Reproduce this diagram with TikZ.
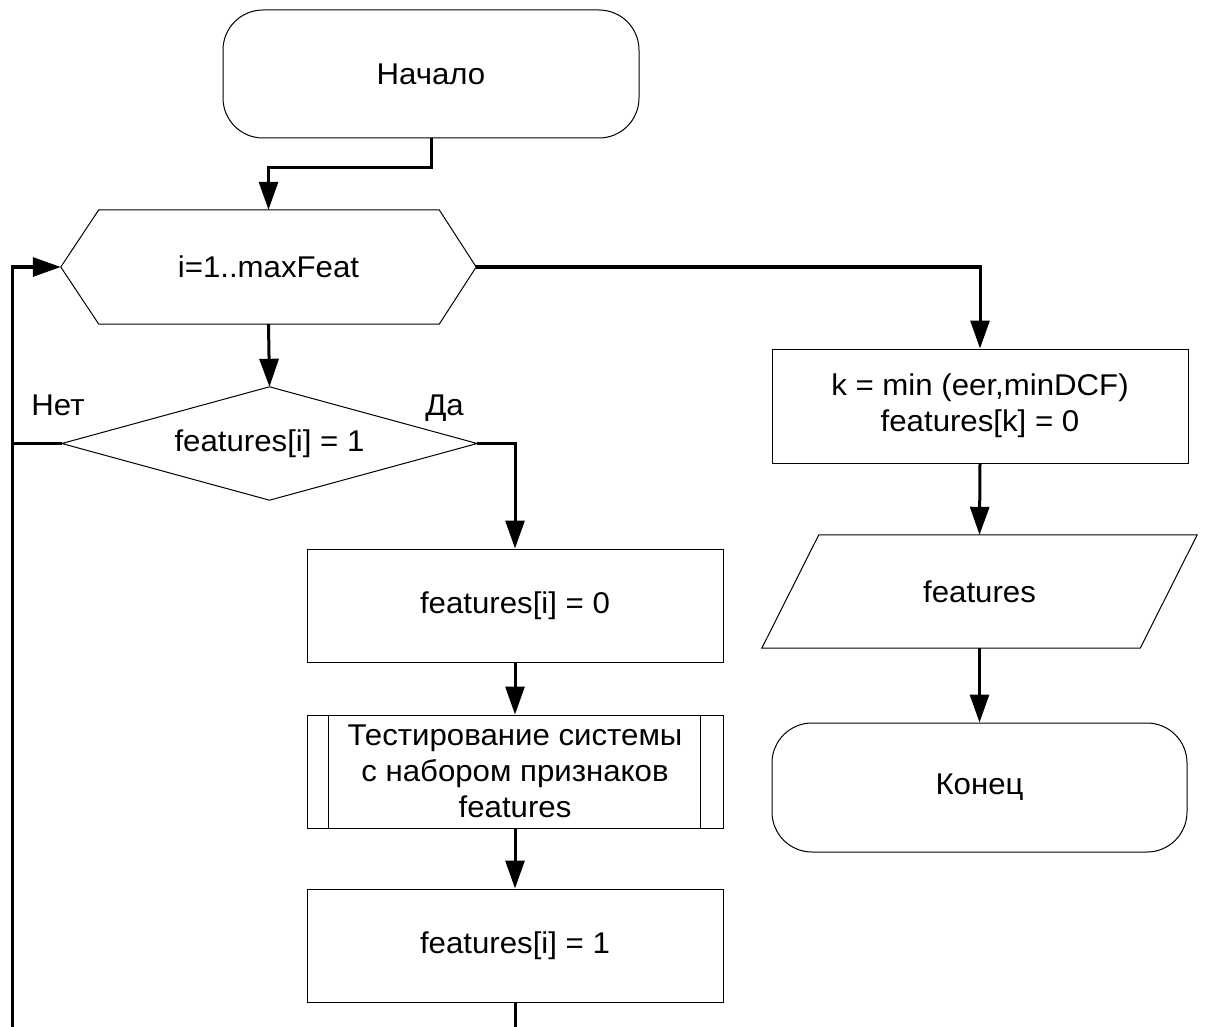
\documentclass[tikz,border=0pt]{standalone}
\usepackage{fontspec}
\setmainfont{Liberation Sans}[FakeStretch=1.04]
\usetikzlibrary{arrows.meta}

\tikzset{
  txt/.style={font=\fontsize{30}{36}\selectfont, align=center, inner sep=0pt},
  box/.style={txt, draw, line width=1pt, minimum width=416pt, minimum height=113pt},
  term/.style={box, rounded corners=40pt, minimum height=128pt},
  frame/.style={txt, minimum width=415pt, minimum height=113pt},
  outline/.style={draw, line width=1pt, line join=miter},
  flow/.style={line width=3pt},
  arr/.style={flow, -{Triangle[length=28pt, width=19pt]}},
  lbl/.style={font=\fontsize{30}{36}\selectfont, inner sep=0pt}
}

\begin{document}
\begin{tikzpicture}[x=1pt, y=-1pt]
  \useasboundingbox (0,0) rectangle (1205,1027);

  % terminal blocks
  \node[term] (start) at (431,74) {Начало};
  \node[term, minimum width=415pt, minimum height=129pt] (finish) at (979.5,787.5) {Конец};

  % loop header (hexagon)
  \node[frame, minimum height=114pt] (loop) at (268.5,267) {i=1..maxFeat};
  \draw[outline] (loop.west) -- ([xshift=38pt]loop.north west) -- ([xshift=-37pt]loop.north east)
    -- (loop.east) -- ([xshift=-37pt]loop.south east) -- ([xshift=38pt]loop.south west) -- cycle;

  % decision (diamond)
  \node[frame] (cond) at (269.5,443.5) {features[i] = 1};
  \draw[outline] (cond.west) -- (cond.north) -- (cond.east) -- (cond.south) -- cycle;

  % process blocks
  \node[box] (set0) at (515,605.5) {features[i] = 0};
  \node[box] (test) at (515,771.5) {Тестирование системы\\с набором признаков\\features};
  \draw[line width=1pt] ([xshift=22pt]test.north west) -- ([xshift=22pt]test.south west)
                        ([xshift=-23pt]test.north east) -- ([xshift=-23pt]test.south east);
  \node[box] (set1) at (515,945.5) {features[i] = 1};
  \node[box, minimum height=114pt] (pick) at (980,406) {k = min (eer,minDCF)\\features[k] = 0};

  % output (parallelogram)
  \node[frame, minimum width=435pt] (out) at (979.5,591.5) {features};
  \draw[outline] (out.south west) -- ([xshift=57pt]out.north west) -- (out.north east)
    -- ([xshift=-57pt]out.south east) -- cycle;

  % branch labels
  \node[lbl, anchor=base] (no) at (58,415) {Нет};
  \node[lbl, anchor=base] (yes) at (444.5,415) {Да};

  % free ends at the lower edge
  \coordinate (loopfoot) at (12,1027);
  \coordinate (bodyfoot) at (515,1027);

  % connectors
  \draw[arr] (start.south) -- (431,168) -| (loop.north);
  \draw[arr] (loop.south) -- (cond.north);
  \draw[arr] (cond.east) -| (set0.north);
  \draw[arr] (set0.south) -- (test.north);
  \draw[arr] (test.south) -- (set1.north);
  \draw[flow] (set1.south) -- (bodyfoot);
  \draw[flow] (cond.west) -- (12,443.5);
  \draw[arr] (loopfoot) |- (loop.west);
  \draw[arr] (loop.east) -| (pick.north);
  \draw[arr] (pick.south) -- (out.north);
  \draw[arr] (out.south) -- (finish.north);
\end{tikzpicture}
\end{document}
